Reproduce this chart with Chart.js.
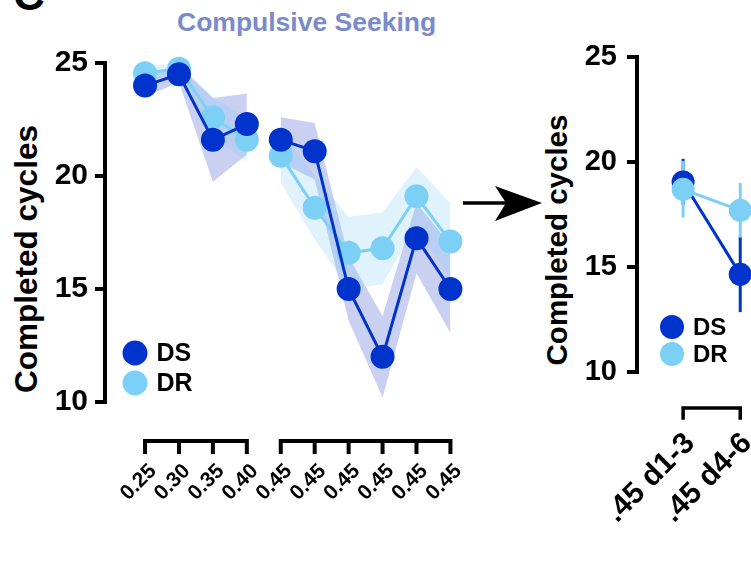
<!DOCTYPE html>
<html>
<head>
<meta charset="utf-8">
<script src="https://cdn.jsdelivr.net/npm/chart.js@4.4.1/dist/chart.umd.min.js"></script>
<style>
html, body { margin: 0; padding: 0; background: #fff; }
body { position: relative; width: 751px; height: 565px; overflow: hidden; }
canvas { position: absolute; top: 0; }
.txt { position: absolute; font-family: "Liberation Sans", Arial, sans-serif; font-weight: bold; white-space: nowrap; line-height: 1; }
.ytitle { transform: translate(-50%, -50%) rotate(-90deg); }
</style>
</head>
<body>
<div class="txt" style="left:13px; top:-27px; font-size:44px;">C</div>
<div class="txt" style="left:177px; top:9px; font-size:26.5px; color:#7b8acb;">Compulsive Seeking</div>
<div class="txt ytitle" style="left:27px; top:259px; font-size:31.5px;">Completed cycles</div>
<div class="txt ytitle" style="left:557px; top:240px; font-size:29.5px;">Completed cycles</div>
<svg style="position:absolute; left:0; top:0;" width="751" height="565">
  <line x1="463" y1="203" x2="508" y2="203" stroke="#000" stroke-width="3.5"/>
  <polygon points="542,203 495,186 506,203 495,221" fill="#000"/>
</svg>
<canvas id="dose" width="476" height="565" style="left:0"></canvas>
<canvas id="phase" width="360" height="565" style="left:470px"></canvas>
<script>
// session-by-session values (0.25 .. 0.45 ratio)
const doseLabels = ['0.25', '0.30', '0.35', '0.40', '0.45', '0.45', '0.45', '0.45', '0.45', '0.45'];
const doseBlocks = [[0, 3], [4, 9]];
const dsMean = [24.0, 24.5, 21.6, 22.3, 21.6, 21.1, 15.0, 12.0, 17.25, 15.0];
const dsSem = [0.5, 0.35, 1.85, 1.35, 1.0, 1.25, 1.4, 1.8, 1.55, 1.95];
const drMean = [24.55, 24.75, 22.6, 21.6, 20.9, 18.6, 16.6, 16.8, 19.1, 17.1];
const drSem = [0.3, 0.25, 0.9, 0.95, 1.2, 1.4, 1.6, 1.6, 1.3, 1.7];

// averaged phases
const phaseLabels = ['.45 d1-3', '.45 d4-6'];
const dsPhaseMean = [19.05, 14.65];
const dsPhaseSem = [1.1, 1.8];
const drPhaseMean = [18.7, 17.7];
const drPhaseSem = [1.35, 1.3];

const seriesNames = ['DS', 'DR'];
const yTicks = [10, 15, 20, 25];

const DS_COLOR = '#0033cc';
const DR_COLOR = '#7dd0f5';
const DS_BAND = 'rgba(75, 98, 212, 0.3)';
const DR_BAND = 'rgba(131, 203, 243, 0.25)';
const FONT = '"Liberation Sans", Arial, sans-serif';

function points(values, from, to) {
    const out = [];
    for (let i = from; i <= to; ++i) {
        out.push({ x: i, y: values[i] });
    }
    return out;
}

function shifted(mean, sem, sign) {
    return mean.map((m, i) => m + sign * sem[i]);
}

// draws the prism style brackets, legend and error bars
const decor = {
    id: 'decor',
    beforeDatasetsDraw(chart, args, opts) {
        if (!opts.errorBars) return;
        const ctx = chart.ctx;
        const x = chart.scales.x;
        const y = chart.scales.y;
        ctx.save();
        for (const bar of opts.errorBars) {
            ctx.strokeStyle = bar.color;
            ctx.lineWidth = bar.width;
            bar.mean.forEach((m, i) => {
                const px = x.getPixelForValue(i);
                ctx.beginPath();
                ctx.moveTo(px, y.getPixelForValue(m - bar.sem[i]));
                ctx.lineTo(px, y.getPixelForValue(m + bar.sem[i]));
                ctx.stroke();
            });
        }
        ctx.restore();
    },
    afterDraw(chart, args, opts) {
        const ctx = chart.ctx;
        const x = chart.scales.x;
        const area = chart.chartArea;
        ctx.save();
        ctx.strokeStyle = '#000';
        ctx.lineWidth = opts.bracketWidth;
        ctx.lineCap = 'square';
        const by = area.bottom + opts.bracketGap;
        for (const block of opts.blocks) {
            ctx.beginPath();
            const x0 = x.getPixelForValue(block[0]);
            const x1 = x.getPixelForValue(block[1]);
            ctx.moveTo(x0, by);
            ctx.lineTo(x1, by);
            for (let i = block[0]; i <= block[1]; ++i) {
                const px = x.getPixelForValue(i);
                ctx.moveTo(px, by);
                ctx.lineTo(px, by + opts.bracketTick);
            }
            ctx.stroke();
        }
        const lg = opts.legend;
        ctx.font = 'bold ' + lg.size + 'px ' + FONT;
        ctx.textBaseline = 'middle';
        lg.items.forEach((item, i) => {
            const cy = lg.y + i * lg.dy;
            ctx.fillStyle = item.color;
            ctx.beginPath();
            ctx.arc(lg.x, cy, lg.r, 0, Math.PI * 2);
            ctx.fill();
            ctx.fillStyle = '#000';
            ctx.fillText(item.label, lg.x + lg.r + 9, cy + 1);
        });
        ctx.restore();
    }
};

function yScale(width, tickFont, pad) {
    return {
        type: 'linear',
        min: 10,
        max: 25,
        afterFit: (s) => { s.width = width; },
        afterBuildTicks: (s) => { s.ticks = yTicks.map(v => ({ value: v })); },
        border: { display: true, color: '#000', width: 4 },
        grid: { drawOnChartArea: false, drawTicks: true, tickLength: 10, color: '#000', lineWidth: 4 },
        ticks: { color: '#000', padding: pad, font: { family: FONT, weight: 'bold', size: tickFont } }
    };
}

// labels are pushed down with an invisible tick length so the
// horizontal padding of the axis stays small
function xScale(labels, min, max, height, tickFont, drop, offset) {
    return {
        type: 'linear',
        min: min,
        max: max,
        afterFit: (s) => { s.height = height; },
        afterBuildTicks: (s) => { s.ticks = labels.map((l, i) => ({ value: i })); },
        border: { display: false },
        grid: { display: false, drawTicks: true, tickLength: drop },
        ticks: {
            color: '#000',
            autoSkip: false,
            minRotation: 45,
            maxRotation: 45,
            padding: 2,
            labelOffset: offset,
            font: { family: FONT, weight: 'bold', size: tickFont },
            callback: (v) => labels[v]
        }
    };
}

function bandSets(mean, sem, color, datasets) {
    for (const block of doseBlocks) {
        const lowerIndex = datasets.length + 1;
        datasets.push({
            data: points(shifted(mean, sem, 1), block[0], block[1]),
            borderWidth: 0, pointRadius: 0, backgroundColor: color,
            fill: lowerIndex, order: 10, clip: false
        });
        datasets.push({
            data: points(shifted(mean, sem, -1), block[0], block[1]),
            borderWidth: 0, pointRadius: 0, fill: false, order: 10, clip: false
        });
    }
}

function lineSets(mean, color, order, radius, datasets, blocks) {
    for (const block of blocks) {
        datasets.push({
            data: points(mean, block[0], block[1]),
            borderColor: color, backgroundColor: color, borderWidth: 3,
            pointRadius: radius, pointBorderWidth: 0, pointBackgroundColor: color,
            fill: false, order: order, clip: false
        });
    }
}

const doseSets = [];
bandSets(drMean, drSem, DR_BAND, doseSets);
bandSets(dsMean, dsSem, DS_BAND, doseSets);
lineSets(drMean, DR_COLOR, 2, 12, doseSets, doseBlocks);
lineSets(dsMean, DS_COLOR, 1, 12, doseSets, doseBlocks);

new Chart(document.getElementById('dose'), {
    type: 'line',
    data: { datasets: doseSets },
    plugins: [decor],
    options: {
        responsive: false,
        animation: false,
        layout: { padding: { left: 0, top: 63, right: 0, bottom: 0 } },
        scales: {
            x: xScale(doseLabels, -1.18, 9.4, 163, 21, 55, 8),
            y: yScale(105, 30, 7)
        },
        plugins: {
            legend: { display: false },
            tooltip: { enabled: false },
            filler: { drawTime: 'beforeDatasetsDraw' },
            decor: {
                blocks: doseBlocks,
                bracketGap: 39, bracketTick: 11, bracketWidth: 4,
                legend: {
                    x: 135, y: 353, dy: 30, r: 12.5, size: 25,
                    items: [
                        { label: seriesNames[0], color: DS_COLOR },
                        { label: seriesNames[1], color: DR_COLOR }
                    ]
                }
            }
        }
    }
});

const phaseSets = [];
lineSets(drPhaseMean, DR_COLOR, 1, 11.5, phaseSets, [[0, 1]]);
lineSets(dsPhaseMean, DS_COLOR, 2, 11.5, phaseSets, [[0, 1]]);

new Chart(document.getElementById('phase'), {
    type: 'line',
    data: { datasets: phaseSets },
    plugins: [decor],
    options: {
        responsive: false,
        animation: false,
        layout: { padding: { left: 0, top: 57, right: 0, bottom: 0 } },
        scales: {
            x: xScale(phaseLabels, -0.807, 2.37, 193, 30, 52, 7),
            y: yScale(167, 29, 10)
        },
        plugins: {
            legend: { display: false },
            tooltip: { enabled: false },
            decor: {
                blocks: [[0, 1]],
                bracketGap: 36, bracketTick: 10, bracketWidth: 3.5,
                errorBars: [
                    { mean: dsPhaseMean, sem: dsPhaseSem, color: DS_COLOR, width: 3 },
                    { mean: drPhaseMean, sem: drPhaseSem, color: DR_COLOR, width: 3 }
                ],
                legend: {
                    x: 202, y: 327, dy: 27, r: 12, size: 24,
                    items: [
                        { label: seriesNames[0], color: DS_COLOR },
                        { label: seriesNames[1], color: DR_COLOR }
                    ]
                }
            }
        }
    }
});
</script>
</body>
</html>
